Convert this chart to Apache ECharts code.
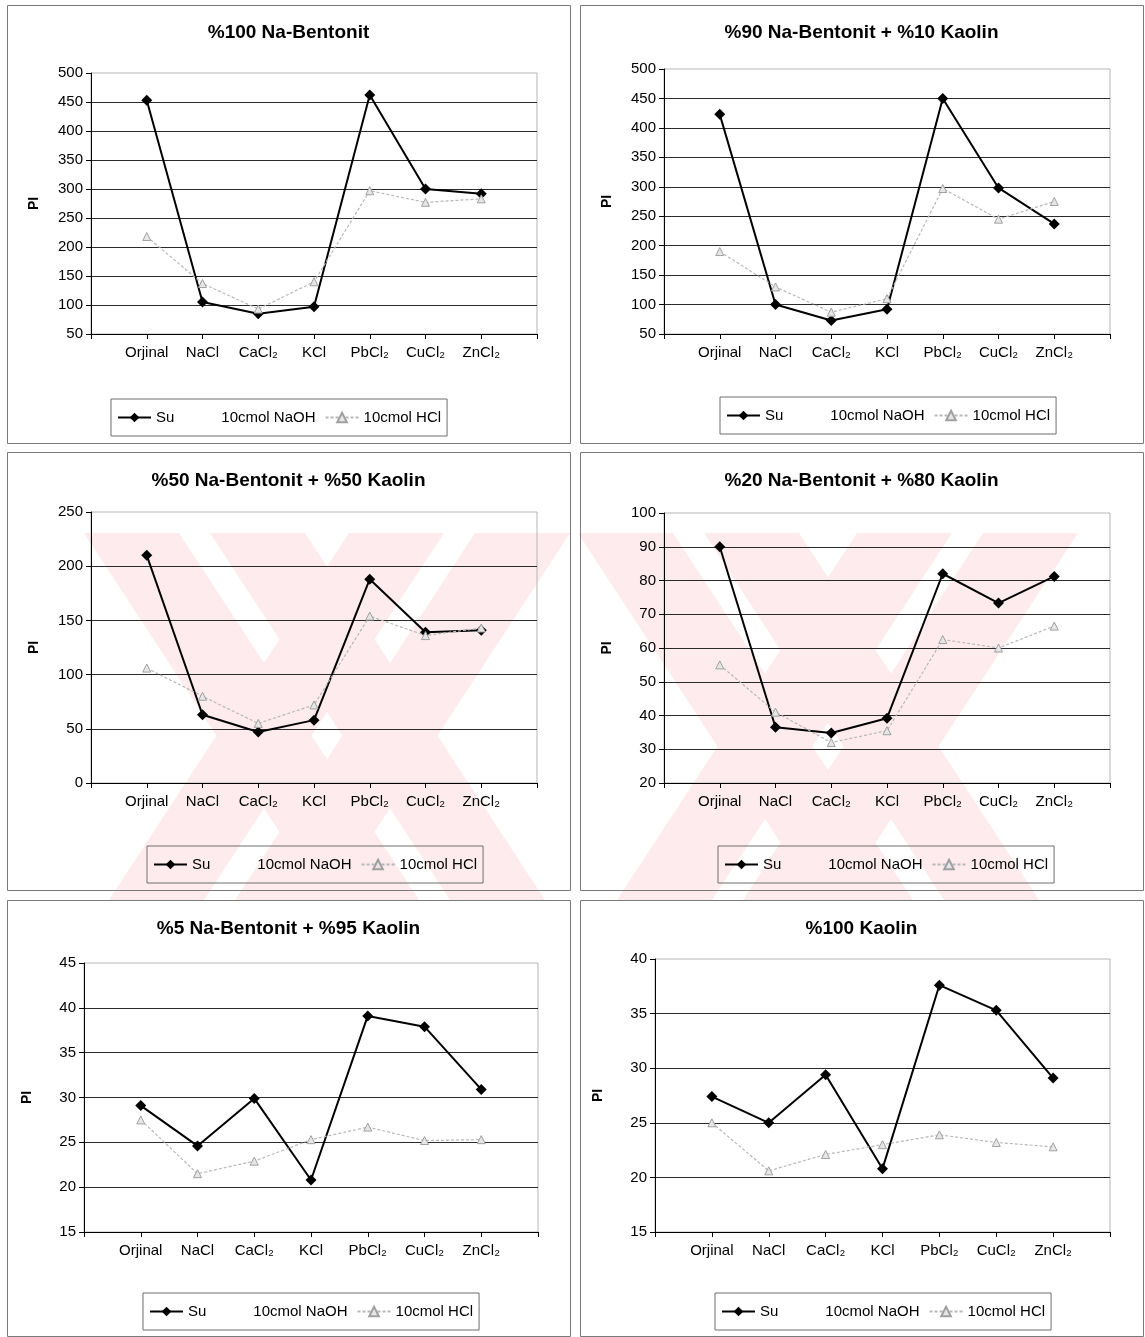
<!DOCTYPE html>
<html>
<head>
<meta charset="utf-8">
<script src="https://cdn.jsdelivr.net/npm/echarts@6/dist/echarts.min.js"></script>
<style>
html, body { margin: 0; padding: 0; background: #fff; }
#chart { width: 1145px; height: 1337px; }
</style>
</head>
<body>
<div id="chart"></div>
<script>
// ---- data ----
const categories = ['Orjinal', 'NaCl', 'CaCl₂', 'KCl', 'PbCl₂', 'CuCl₂', 'ZnCl₂'];
const seriesNames = ['Su', '10cmol NaOH', '10cmol HCl'];
const panelTitles = [
  '%100 Na-Bentonit',
  '%90 Na-Bentonit + %10 Kaolin',
  '%50 Na-Bentonit + %50 Kaolin',
  '%20 Na-Bentonit + %80 Kaolin',
  '%5 Na-Bentonit + %95 Kaolin',
  '%100 Kaolin'
];

// Plasticity index (PI) per treatment
const suB100   = [453, 105, 85, 97, 462, 300, 292];
const hclB100  = [218, 137, 93, 140, 297, 277, 283];
const suB90    = [423, 100, 73, 92, 450, 298, 237];
const hclB90   = [190, 130, 87, 110, 297, 245, 275];
const suB50    = [210, 63, 47, 58, 188, 139, 141];
const hclB50   = [106, 80, 55, 72, 154, 136, 143];
const suB20    = [90, 36.5, 34.8, 39.2, 82, 73.3, 81.2];
const hclB20   = [55, 41, 32, 35.5, 62.5, 60, 66.5];
const suB5     = [29.1, 24.6, 29.9, 20.8, 39.1, 37.9, 30.9];
const hclB5    = [27.5, 21.5, 22.9, 25.3, 26.7, 25.2, 25.3];
const suK100   = [27.4, 25.0, 29.4, 20.8, 37.6, 35.3, 29.1];
const hclK100  = [25.0, 20.6, 22.1, 23.0, 23.9, 23.2, 22.8];

const suSets  = [suB100, suB90, suB50, suB20, suB5, suK100];
const hclSets = [hclB100, hclB90, hclB50, hclB20, hclB5, hclK100];

// y-axis tick ranges
const axisMin  = [50, 50, 0, 20, 15, 15];
const axisMax  = [500, 500, 250, 100, 45, 40];
const axisStep = [50, 50, 50, 10, 5, 5];

// ---- layout ----
const panelBoxes = [
  [7, 5, 563, 438], [580, 5, 563, 438],
  [7, 452, 563, 438], [580, 452, 563, 438],
  [7, 900, 563, 436], [580, 900, 563, 436]
];
const plotBoxes = [
  [91, 73, 446, 261], [664, 69, 446, 265],
  [91, 512, 446, 271], [664, 513, 446, 270],
  [84, 963, 454, 269], [655, 959, 455, 273]
];
const titleY = [33, 33, 481, 481, 929, 929];
const legendPos = [[111, 399], [720, 397], [147, 846], [718, 846], [143, 1293], [715, 1293]];

const FONT = "'Liberation Sans', Arial, 'DejaVu Sans', sans-serif";

// padded category axis: empty slot at each end so points sit on ticks
const axisCats = [''].concat(categories, ['']);
const pad = arr => [null].concat(arr, [null]);

const grids = [], xAxes = [], yAxes = [], series = [], legends = [], graphics = [];

// faint diagonal watermark bands behind the middle row
const wmTop = 533, wmBottom = 900, wmShift = 240, wmW = 95;
const wmFill = '#fdebee';
[84, 210, 578, 704].forEach(x0 => {
  graphics.push({ type: 'polygon', z: -5, silent: true,
    shape: { points: [[x0, wmTop], [x0 + wmW, wmTop], [x0 + wmW + wmShift, wmBottom], [x0 + wmShift, wmBottom]] },
    style: { fill: wmFill } });
});
[570, 444, 1078, 952].forEach(x1 => {
  graphics.push({ type: 'polygon', z: -5, silent: true,
    shape: { points: [[x1 - wmW, wmTop], [x1, wmTop], [x1 - wmShift, wmBottom], [x1 - wmW - wmShift, wmBottom]] },
    style: { fill: wmFill } });
});

for (let i = 0; i < 6; i++) {
  const [px, py, pw, ph] = panelBoxes[i];
  const [gx, gy, gw, gh] = plotBoxes[i];

  graphics.push({ type: 'rect', z: 1, silent: true,
    shape: { x: px + 0.5, y: py + 0.5, width: pw, height: ph },
    style: { fill: null, stroke: '#7a7a7a', lineWidth: 1 } });
  graphics.push({ type: 'text', z: 10, silent: true,
    x: px + pw / 2, y: titleY[i],
    style: { text: panelTitles[i], fill: '#000', font: 'bold 19px ' + FONT,
             textAlign: 'center', textVerticalAlign: 'middle' } });

  grids.push({ left: gx, top: gy, width: gw, height: gh,
    show: true, borderColor: '#b5b5b5', borderWidth: 1, backgroundColor: 'transparent' });

  xAxes.push({ type: 'category', gridIndex: i, data: axisCats, boundaryGap: false,
    axisLine: { lineStyle: { color: '#000', width: 1 } },
    axisTick: { show: true, length: 5, interval: 0, lineStyle: { color: '#000' } },
    axisLabel: { interval: 0, color: '#000', fontSize: 15, fontFamily: FONT, margin: 11 },
    splitLine: { show: false } });

  yAxes.push({ type: 'value', gridIndex: i,
    min: axisMin[i], max: axisMax[i], interval: axisStep[i],
    name: 'PI', nameLocation: 'middle', nameRotate: 90, nameGap: 50,
    nameTextStyle: { color: '#000', fontSize: 14, fontWeight: 'bold', fontFamily: FONT },
    axisLine: { show: true, lineStyle: { color: '#000', width: 1 } },
    axisTick: { show: true, length: 5, lineStyle: { color: '#000' } },
    axisLabel: { color: '#000', fontSize: 15, fontFamily: FONT, margin: 8 },
    splitLine: { show: true, showMinLine: false, showMaxLine: false,
                 lineStyle: { color: '#2a2a2a', width: 1 } } });

  series.push({ name: seriesNames[0], type: 'line', xAxisIndex: i, yAxisIndex: i,
    data: pad(suSets[i]), symbol: 'diamond', symbolSize: 11, showAllSymbol: true,
    lineStyle: { color: '#000', width: 2 }, itemStyle: { color: '#000' },
    animation: false, z: 3 });
  series.push({ name: seriesNames[1], type: 'line', xAxisIndex: i, yAxisIndex: i,
    data: [], symbol: 'none',
    lineStyle: { color: '#fff', width: 2 }, itemStyle: { color: '#fff' },
    animation: false });
  series.push({ name: seriesNames[2], type: 'line', xAxisIndex: i, yAxisIndex: i,
    data: pad(hclSets[i]), symbol: 'triangle', symbolSize: 8, showAllSymbol: true,
    lineStyle: { color: '#b8b8b8', width: 1.2, type: [3, 2] },
    itemStyle: { color: '#e6e6e6', borderColor: '#a0a0a0', borderWidth: 1 },
    animation: false, z: 4 });

  legends.push({ left: legendPos[i][0], top: legendPos[i][1], orient: 'horizontal',
    data: [
      { name: seriesNames[0] },
      { name: seriesNames[1], icon: 'none' },
      { name: seriesNames[2] }
    ],
    selectedMode: false,
    backgroundColor: 'transparent', borderColor: '#6f6f6f', borderWidth: 1,
    padding: [11, 6], itemWidth: 33, itemHeight: 12, itemGap: 9,
    textStyle: { color: '#000', fontSize: 15, fontFamily: FONT } });
}

const chart = echarts.init(document.getElementById('chart'), null, { renderer: 'canvas' });
chart.setOption({
  animation: false,
  backgroundColor: '#fff',
  textStyle: { fontFamily: FONT },
  grid: grids,
  xAxis: xAxes,
  yAxis: yAxes,
  legend: legends,
  series: series,
  graphic: { elements: graphics }
});
</script>
</body>
</html>
